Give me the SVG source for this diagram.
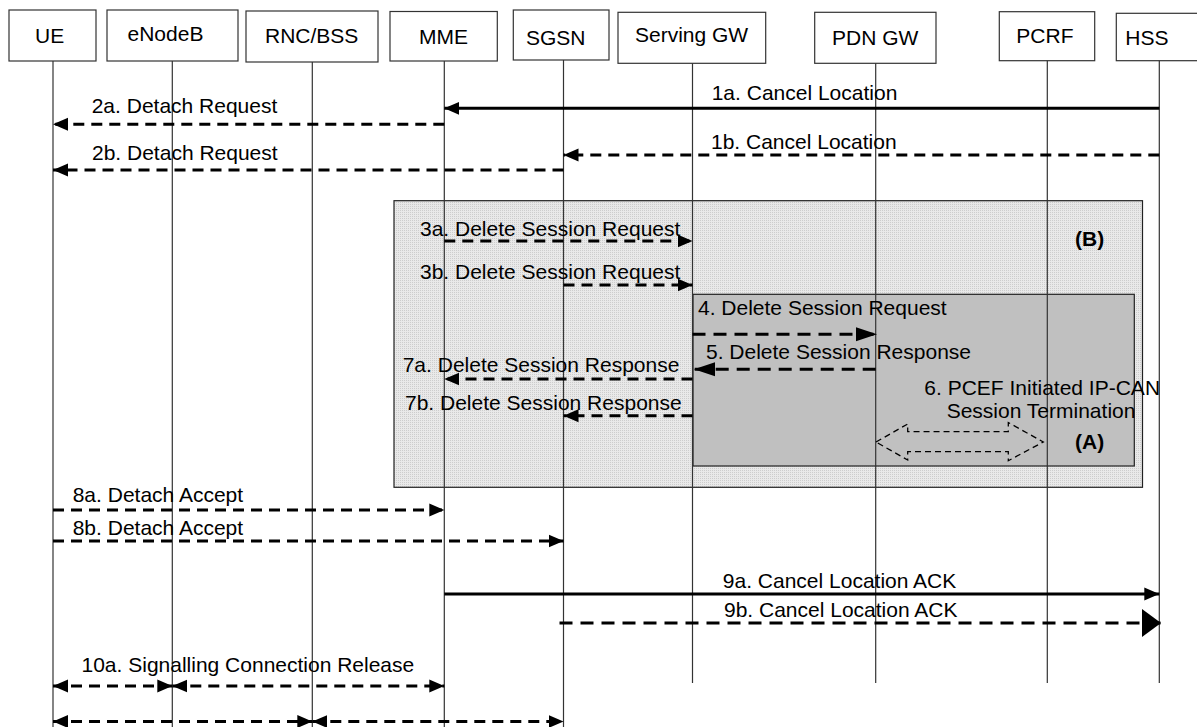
<svg xmlns="http://www.w3.org/2000/svg" width="1197" height="727" viewBox="0 0 1197 727">
<style>
text{font-family:"Liberation Sans",Arial,sans-serif;font-size:21px;fill:#000}
.hb{fill:#fff;stroke:#333;stroke-width:1.2}
.life{stroke:#333;stroke-width:1.2}
.m{fill:none;stroke:#000;stroke-width:3}
.d{stroke-dasharray:11 7}
.dl{stroke-dasharray:13 8}
.b{font-weight:bold}
</style>
<defs>
<pattern id="dots" width="2" height="2" patternUnits="userSpaceOnUse">
<rect width="2" height="2" fill="#e9e9e9"/>
<rect width="1" height="1" fill="#cdcdcd"/>
</pattern>
<marker id="ah" markerUnits="userSpaceOnUse" markerWidth="16" markerHeight="14" refX="15" refY="7" orient="auto-start-reverse">
<path d="M0,0.5 L15,7 L0,13.5 z" fill="#000"/>
</marker>
<marker id="ahL" markerUnits="userSpaceOnUse" markerWidth="22" markerHeight="16" refX="21" refY="8" orient="auto-start-reverse">
<path d="M0,1 L21,8 L0,15 z" fill="#000"/>
</marker>
<marker id="ahXL" markerUnits="userSpaceOnUse" markerWidth="20" markerHeight="30" refX="19" refY="15" orient="auto-start-reverse">
<path d="M0,1 L19,15 L0,29 z" fill="#000"/>
</marker>
</defs>

<g id="frames">
<rect x="394" y="200.7" width="748.5" height="286.6" fill="url(#dots)" stroke="#222" stroke-width="1.2"/>
<rect x="693" y="294.3" width="441.3" height="171.7" fill="#c0c0c0" stroke="#222" stroke-width="1.2"/>
<text class="b" x="1075" y="246">(B)</text>
<text class="b" x="1075" y="449">(A)</text>
</g>

<g id="node-UE"><rect class="hb" x="9" y="10" width="87" height="51"/><text x="35" y="43">UE</text><line class="life" x1="53" y1="61" x2="53" y2="727"/></g>
<g id="node-eNodeB"><rect class="hb" x="107" y="10" width="131" height="51"/><text x="127.5" y="41">eNodeB</text><line class="life" x1="172.3" y1="61" x2="172.3" y2="727"/></g>
<g id="node-RNC"><rect class="hb" x="246" y="11" width="132" height="51"/><text x="265" y="42.5">RNC/BSS</text><line class="life" x1="312.3" y1="62" x2="312.3" y2="727"/></g>
<g id="node-MME"><rect class="hb" x="390" y="11.5" width="107.3" height="49.5"/><text x="419" y="43.5">MME</text><line class="life" x1="444.3" y1="61" x2="444.3" y2="727"/></g>
<g id="node-SGSN"><rect class="hb" x="513.3" y="10" width="95.7" height="50"/><text x="526" y="44.5">SGSN</text><line class="life" x1="563.5" y1="60" x2="563.5" y2="727"/></g>
<g id="node-SGW"><rect class="hb" x="618" y="12.3" width="147.7" height="51"/><text x="635" y="42">Serving GW</text><line class="life" x1="692.5" y1="63.3" x2="692.5" y2="683"/></g>
<g id="node-PGW"><rect class="hb" x="814.7" y="12.3" width="121.3" height="51"/><text x="832" y="44.5">PDN GW</text><line class="life" x1="875.7" y1="63.3" x2="875.7" y2="683"/></g>
<g id="node-PCRF"><rect class="hb" x="999.3" y="11.7" width="95.4" height="49"/><text x="1016.3" y="42.5">PCRF</text><line class="life" x1="1047.3" y1="60.7" x2="1047.3" y2="683"/></g>
<g id="node-HSS"><rect class="hb" x="1116.3" y="13.3" width="90" height="47.4"/><text x="1125.3" y="45">HSS</text><line class="life" x1="1159.3" y1="60.7" x2="1159.3" y2="683"/></g>

<g id="connectors">
<line class="m" x1="1159.3" y1="108.3" x2="444.3" y2="108.3" stroke-width="3.5" marker-end="url(#ah)"/>
<text x="711.7" y="100">1a. Cancel Location</text>
<line class="m d" x1="444.3" y1="124.3" x2="53" y2="124.3" marker-end="url(#ah)"/>
<text x="91.7" y="112.7">2a. Detach Request</text>
<line class="m d" x1="1159.3" y1="155" x2="563.5" y2="155" stroke-width="2.5" marker-end="url(#ah)"/>
<text x="711" y="149">1b. Cancel Location</text>
<line class="m d" x1="563.5" y1="170" x2="53" y2="170" marker-end="url(#ah)"/>
<text x="92" y="160">2b. Detach Request</text>

<line class="m d" x1="444.3" y1="241" x2="692.5" y2="241" marker-end="url(#ah)"/>
<text x="420" y="236">3a. Delete Session Request</text>
<line class="m d" x1="563.5" y1="285" x2="692.5" y2="285" marker-end="url(#ah)"/>
<text x="420" y="279.3">3b. Delete Session Request</text>
<line class="m dl" x1="692.5" y1="334.3" x2="877" y2="334.3" stroke-width="4" marker-end="url(#ahL)"/>
<text x="698" y="315">4. Delete Session Request</text>
<line class="m dl" x1="875.7" y1="369.3" x2="694" y2="369.3" stroke-width="4" marker-end="url(#ahL)"/>
<text x="706" y="359.3">5. Delete Session Response</text>
<text x="924.3" y="395">6. PCEF Initiated IP-CAN</text>
<text x="946.7" y="418.3">Session Termination</text>
<polygon points="876,442 907.7,424 907.7,431.7 1008.3,431.7 1008.3,422.5 1043.3,442 1008.3,460.7 1008.3,451.7 907.7,451.7 907.7,460 876,442" fill="none" stroke="#000" stroke-width="1.3" stroke-dasharray="6 4"/>
<line class="m d" x1="692.5" y1="379" x2="444.3" y2="379" marker-end="url(#ah)"/>
<text x="402.7" y="371.7">7a. Delete Session Response</text>
<line class="m d" x1="692.5" y1="415.7" x2="563.5" y2="415.7" marker-end="url(#ah)"/>
<text x="405" y="410">7b. Delete Session Response</text>

<line class="m d" x1="53" y1="510" x2="444.3" y2="510" marker-end="url(#ah)"/>
<text x="72.7" y="502">8a. Detach Accept</text>
<line class="m d" x1="53" y1="541" x2="563.5" y2="541" marker-end="url(#ah)"/>
<text x="72.7" y="535">8b. Detach Accept</text>
<line class="m" x1="444.3" y1="594" x2="1159.3" y2="594" marker-end="url(#ah)"/>
<text x="722.8" y="587.5">9a. Cancel Location ACK</text>
<line class="m dl" x1="559.5" y1="623" x2="1161" y2="623" stroke-width="4" marker-end="url(#ahXL)"/>
<text x="724" y="617">9b. Cancel Location ACK</text>

<line class="m d" x1="53" y1="686" x2="172.3" y2="686" marker-start="url(#ah)" marker-end="url(#ah)"/>
<line class="m d" x1="172.3" y1="686" x2="444.3" y2="686" marker-start="url(#ah)" marker-end="url(#ah)"/>
<text x="81.5" y="672">10a. Signalling Connection Release</text>
<line class="m d" x1="53" y1="721.5" x2="312.3" y2="721.5" marker-start="url(#ah)" marker-end="url(#ah)"/>
<line class="m d" x1="312.3" y1="721.5" x2="563.5" y2="721.5" marker-start="url(#ah)" marker-end="url(#ah)"/>
</g>
</svg>
